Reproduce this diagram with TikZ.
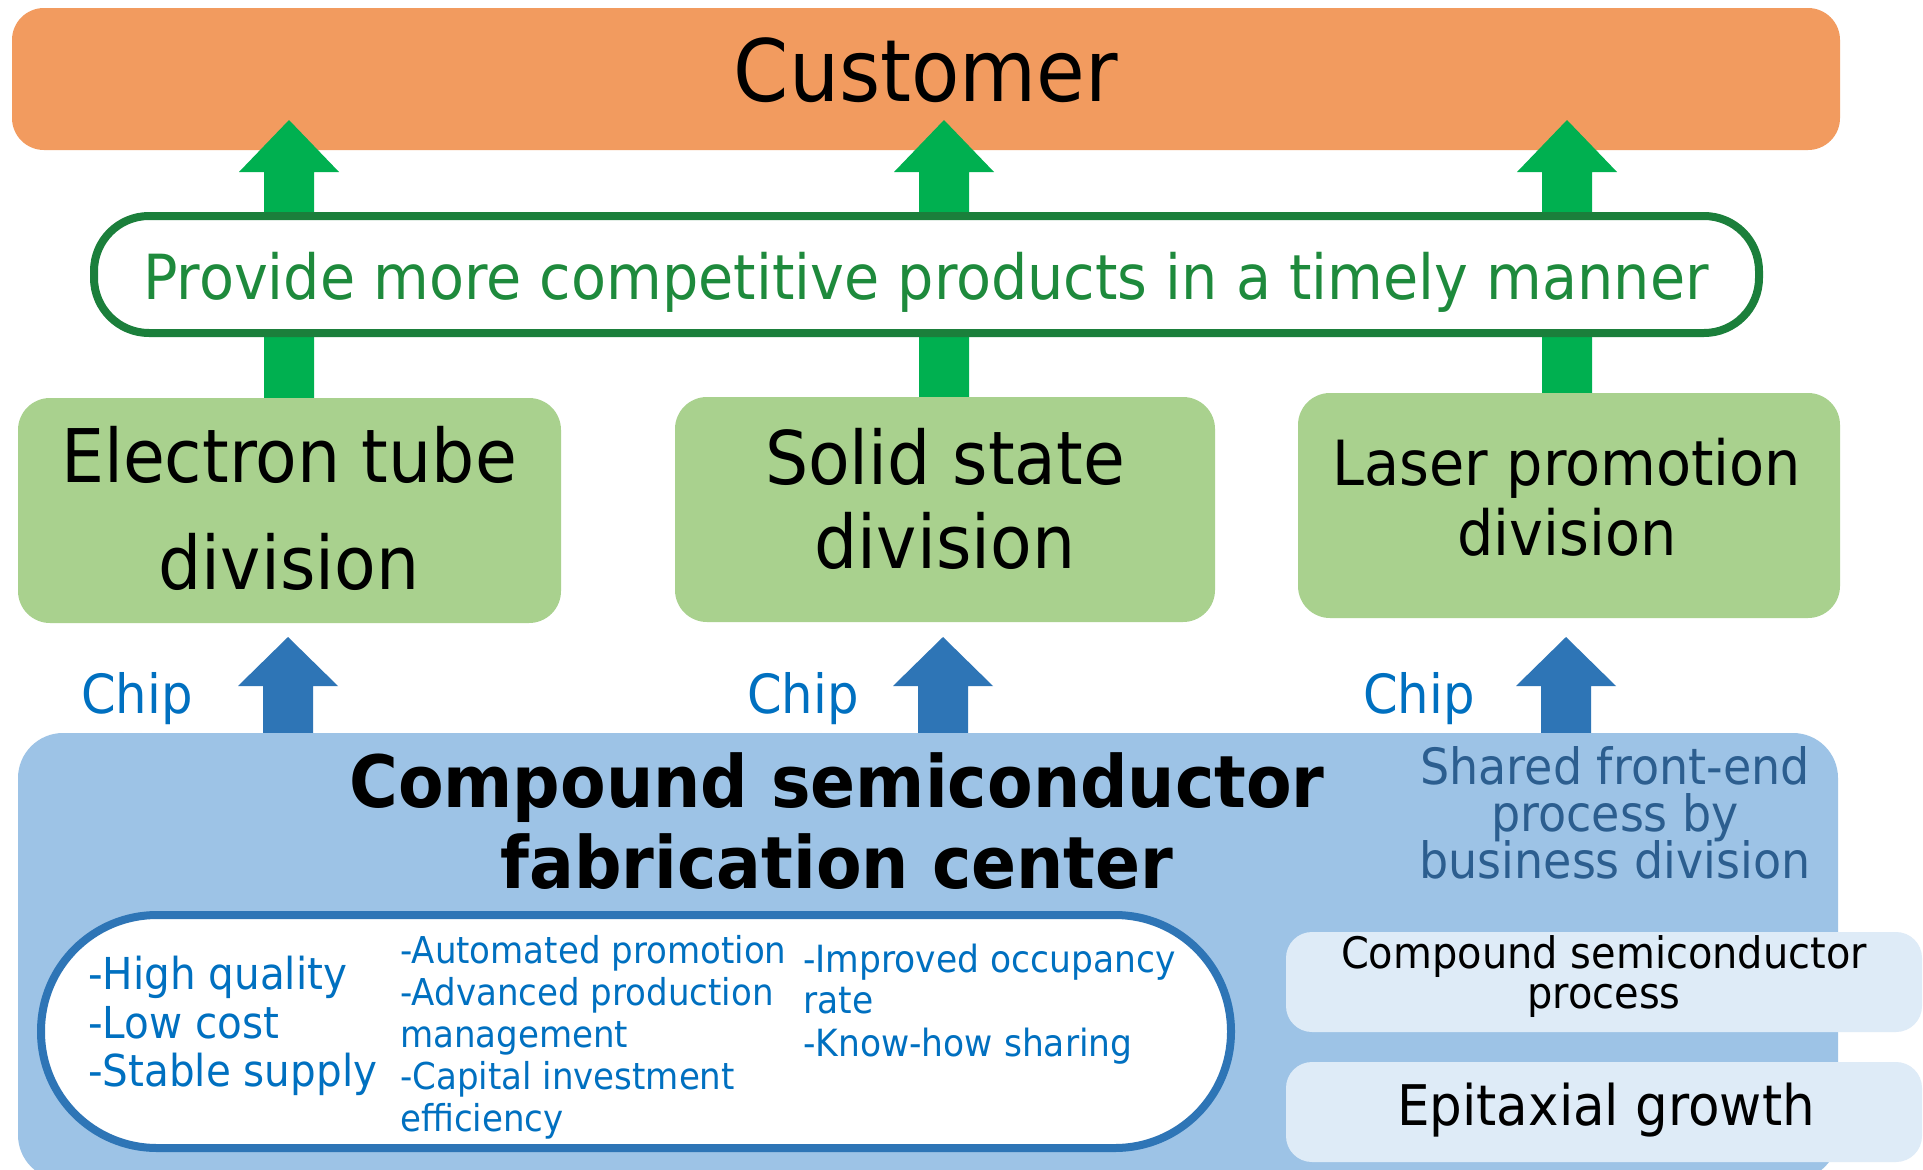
\documentclass[tikz,border=0pt]{standalone}
\usepackage{fontspec}
\setmainfont{DejaVu Sans}[FakeStretch=0.92]
\newcommand\fsz[1]{\fontsize{#1}{#1}\selectfont}
\definecolor{custorange}{HTML}{F29B5F}
\definecolor{arrgreen}{HTML}{00B050}
\definecolor{provgreen}{HTML}{1B7F3B}
\definecolor{provtext}{HTML}{1E8A3C}
\definecolor{divgreen}{HTML}{A9D18E}
\definecolor{chipblue}{HTML}{0070C0}
\definecolor{arrblue}{HTML}{2E75B6}
\definecolor{fabblue}{HTML}{9DC3E6}
\definecolor{sharedblue}{HTML}{2C5E8F}
\definecolor{paleblue}{HTML}{DEEBF7}
\tikzset{
  txt/.style={inner sep=0pt, anchor=base},
  txtw/.style={inner sep=0pt, anchor=base west},
  divbox/.style={fill=divgreen, rounded corners=32pt, inner sep=0pt, minimum height=225pt},
  subbox/.style={fill=paleblue, rounded corners=26pt, inner sep=0pt, minimum width=636pt, minimum height=100pt},
}
\begin{document}
\begin{tikzpicture}[x=1pt,y=-1pt]
\fill[white] (0,0) rectangle (1923,1170);
\clip (0,0) rectangle (1923,1170);
% Customer
\node[fill=custorange, rounded corners=32pt, inner sep=0pt, minimum width=1828pt, minimum height=142pt] (cust) at (926,79) {};
\node[txt, font=\fsz{86}] (custt) at (926,101) {Customer};
% green block arrows
\foreach \cx in {289,944,1567}{
  \fill[arrgreen] (\cx-25,420) -- (\cx-25,172) -- (\cx-50,172) -- (\cx,120) -- (\cx+50,172) -- (\cx+25,172) -- (\cx+25,420) -- cycle;
}
% Provide oval
\node[draw=provgreen, line width=8pt, fill=white, rounded corners=55pt, inner sep=0pt, minimum width=1665pt, minimum height=117pt] (prov) at (926.5,274.5) {};
\node[txt, font=\fsz{62.2}, text=provtext] (provt) at (926,299) {Provide more competitive products in a timely manner};
% divisions
\node[divbox, minimum width=543pt] (ed) at (289.5,510.5) {};
\node[divbox, minimum width=540pt] (ss) at (945,509.5) {};
\node[divbox, minimum width=542pt] (lp) at (1569,505.5) {};
\node[txt, font=\fsz{74}] (ed1) at (289,482) {Electron tube};
\node[txt, font=\fsz{74}] (ed2) at (289,589) {division};
\node[txt, font=\fsz{74}] (ss1) at (945,484) {Solid state};
\node[txt, font=\fsz{74}] (ss2) at (945,568) {division};
\node[txt, font=\fsz{62.3}] (lp1) at (1567,485) {Laser promotion};
\node[txt, font=\fsz{62.3}] (lp2) at (1567,555) {division};
% chips
\node[txt, font=\fsz{54}, text=chipblue] (chip1) at (137,713) {Chip};
\node[txt, font=\fsz{54}, text=chipblue] (chip2) at (803,713) {Chip};
\node[txt, font=\fsz{54}, text=chipblue] (chip3) at (1419,713) {Chip};
% blue block arrows
\foreach \cx in {288,943,1566}{
  \fill[arrblue] (\cx-25,745) -- (\cx-25,686) -- (\cx-50,686) -- (\cx,637) -- (\cx+50,686) -- (\cx+25,686) -- (\cx+25,745) -- cycle;
}
% fabrication center
\node[fill=fabblue, rounded corners=45pt, inner sep=0pt, minimum width=1820pt, minimum height=447pt] (fab) at (928,956.5) {};
\node[txt, font=\fsz{72.2}\bfseries] (fab1) at (837,807) {Compound semiconductor};
\node[txt, font=\fsz{72.2}\bfseries] (fab2) at (837,888) {fabrication center};
\node[txt, font=\fsz{50}, text=sharedblue] (sh1) at (1615,784) {Shared front-end};
\node[txt, font=\fsz{50}, text=sharedblue] (sh2) at (1615,831) {process by};
\node[txt, font=\fsz{50}, text=sharedblue] (sh3) at (1615,878) {business division};
% inner oval
\node[draw=arrblue, line width=8pt, fill=white, rounded corners=116pt, inner sep=0pt, minimum width=1190pt, minimum height=233pt] (merit) at (636,1031.5) {};
\node[txtw, font=\fsz{44}, text=chipblue] (m1) at (88,989) {-High quality};
\node[txtw, font=\fsz{44}, text=chipblue] (m2) at (88,1038) {-Low cost};
\node[txtw, font=\fsz{44}, text=chipblue] (m3) at (88,1086) {-Stable supply};
\node[txtw, font=\fsz{37}, text=chipblue] (n1) at (400,963) {-Automated promotion};
\node[txtw, font=\fsz{37}, text=chipblue] (n2) at (400,1005) {-Advanced production};
\node[txtw, font=\fsz{37}, text=chipblue] (n3) at (400,1047) {management};
\node[txtw, font=\fsz{37}, text=chipblue] (n4) at (400,1089) {-Capital investment};
\node[txtw, font=\fsz{37}, text=chipblue] (n5) at (400,1131) {efficiency};
\node[txtw, font=\fsz{37.5}, text=chipblue] (k1) at (803,972) {-Improved occupancy};
\node[txtw, font=\fsz{37.5}, text=chipblue] (k2) at (803,1013) {rate};
\node[txtw, font=\fsz{37.5}, text=chipblue] (k3) at (803,1056) {-Know-how sharing};
% right process boxes
\node[subbox] (proc) at (1604,982) {};
\node[subbox] (epi) at (1604,1112) {};
\node[txt, font=\fsz{43.4}] (proc1) at (1604,968) {Compound semiconductor};
\node[txt, font=\fsz{43.4}] (proc2) at (1604,1008) {process};
\node[txt, font=\fsz{56}] (epit) at (1606,1125) {Epitaxial growth};
\end{tikzpicture}
\end{document}
